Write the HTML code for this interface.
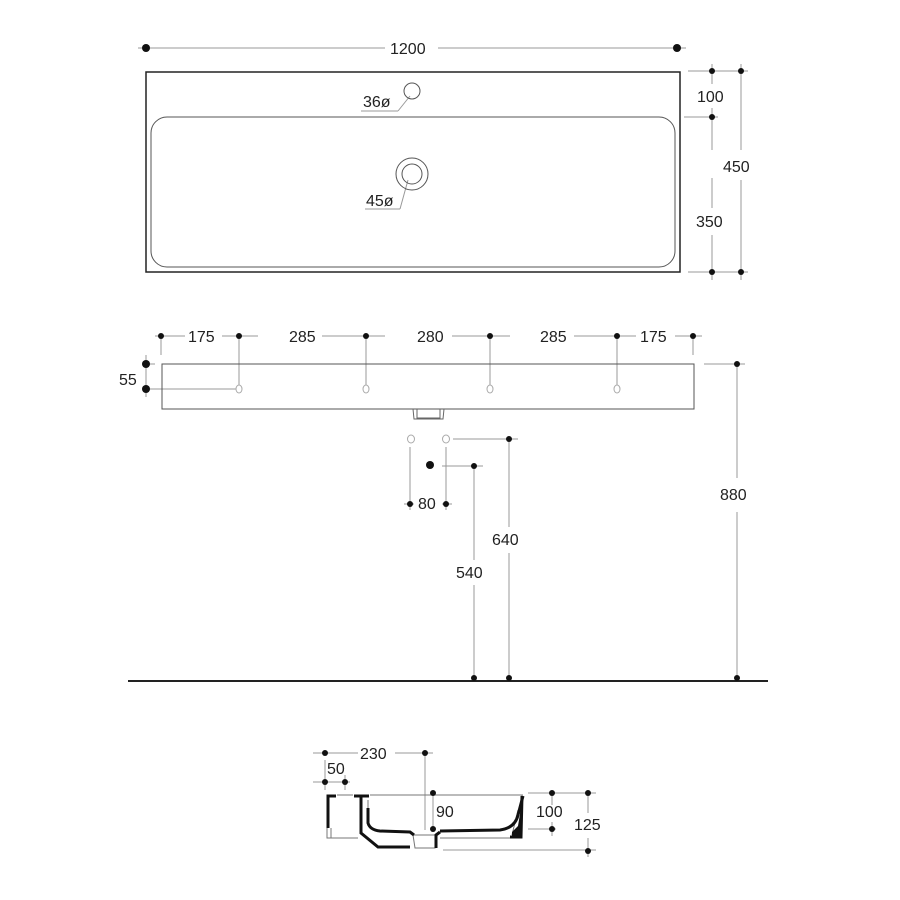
<!DOCTYPE html>
<html><head><style>body{margin:0;background:#fff}svg{display:block}text{font-family:"Liberation Sans",sans-serif;font-size:16px;fill:#222}</style></head><body>
<svg width="900" height="900" viewBox="0 0 900 900" xmlns="http://www.w3.org/2000/svg">
<g stroke="#999" stroke-width="1" fill="none">
<line x1="138" y1="48" x2="385" y2="48"/><line x1="438" y1="48" x2="686" y2="48"/>
<line x1="688" y1="71" x2="748" y2="71"/><line x1="688" y1="272" x2="748" y2="272"/><line x1="684" y1="117" x2="718" y2="117"/>
<line x1="712" y1="64" x2="712" y2="84"/><line x1="712" y1="108" x2="712" y2="150"/><line x1="712" y1="178" x2="712" y2="208"/><line x1="712" y1="235" x2="712" y2="280"/>
<line x1="741" y1="64" x2="741" y2="150"/><line x1="741" y1="180" x2="741" y2="280"/>
<line x1="361" y1="111" x2="398" y2="111"/><line x1="398" y1="111" x2="410" y2="96"/>
<line x1="365" y1="209" x2="400" y2="209"/><line x1="400" y1="209" x2="408" y2="180"/>
<line x1="155" y1="336" x2="185" y2="336"/><line x1="222" y1="336" x2="258" y2="336"/><line x1="322" y1="336" x2="385" y2="336"/><line x1="452" y1="336" x2="510" y2="336"/><line x1="574" y1="336" x2="636" y2="336"/><line x1="675" y1="336" x2="702" y2="336"/>
<line x1="239" y1="336" x2="239" y2="385"/><line x1="366" y1="336" x2="366" y2="385"/><line x1="490" y1="336" x2="490" y2="385"/><line x1="617" y1="336" x2="617" y2="385"/>
<line x1="161" y1="336" x2="161" y2="355"/><line x1="693" y1="336" x2="693" y2="355"/>
<line x1="142" y1="364" x2="155" y2="364"/><line x1="142" y1="389" x2="236" y2="389"/><line x1="146" y1="355" x2="146" y2="397"/>
<line x1="704" y1="364" x2="745" y2="364"/><line x1="737" y1="364" x2="737" y2="478"/><line x1="737" y1="512" x2="737" y2="680"/>
<line x1="453" y1="439" x2="518" y2="439"/><line x1="509" y1="439" x2="509" y2="527"/><line x1="509" y1="553" x2="509" y2="680"/>
<line x1="442" y1="466" x2="483" y2="466"/><line x1="474" y1="466" x2="474" y2="560"/><line x1="474" y1="585" x2="474" y2="680"/>
<line x1="410" y1="447" x2="410" y2="510"/><line x1="446" y1="447" x2="446" y2="510"/>
<line x1="404" y1="504" x2="414" y2="504"/><line x1="442" y1="504" x2="452" y2="504"/>
<line x1="313" y1="753" x2="358" y2="753"/><line x1="395" y1="753" x2="433" y2="753"/><line x1="425" y1="753" x2="425" y2="830"/>
<line x1="313" y1="782" x2="350" y2="782"/><line x1="325" y1="760" x2="325" y2="790"/><line x1="345" y1="775" x2="345" y2="790"/>
<line x1="433" y1="792" x2="433" y2="832"/>
<line x1="528" y1="793" x2="596" y2="793"/><line x1="528" y1="829" x2="556" y2="829"/><line x1="443" y1="850" x2="596" y2="850"/>
<line x1="552" y1="793" x2="552" y2="805"/><line x1="552" y1="822" x2="552" y2="836"/><line x1="588" y1="793" x2="588" y2="813"/><line x1="588" y1="838" x2="588" y2="857"/>
</g>
<rect x="146" y="72" width="534" height="200" fill="none" stroke="#222" stroke-width="1.5"/>
<rect x="151" y="117" width="524" height="150" rx="16" fill="none" stroke="#555" stroke-width="1"/>
<circle cx="412" cy="91" r="8" fill="none" stroke="#555"/>
<circle cx="412" cy="174" r="16" fill="none" stroke="#555"/><circle cx="412" cy="174" r="10" fill="none" stroke="#555"/>
<rect x="162" y="364" width="532" height="45" fill="none" stroke="#555" stroke-width="1"/>
<path d="M413 409 L414 419 L443 419 L444 409 M417 409 L417 418 L440 418 L440 409" fill="none" stroke="#666"/>
<g fill="none" stroke="#aaa"><ellipse cx="239" cy="389" rx="3" ry="4"/><ellipse cx="366" cy="389" rx="3" ry="4"/><ellipse cx="490" cy="389" rx="3" ry="4"/><ellipse cx="617" cy="389" rx="3" ry="4"/>
<ellipse cx="411" cy="439" rx="3.5" ry="4"/><ellipse cx="446" cy="439" rx="3.5" ry="4"/></g>
<circle cx="430" cy="465" r="4" fill="#111"/>
<line x1="128" y1="681" x2="768" y2="681" stroke="#222" stroke-width="2"/>
<!-- cross section -->
<g fill="none" stroke="#777" stroke-width="1">
<path d="M327 828 L327 838 L331 838 L331 828"/>
<path d="M337 795 L353 795"/><path d="M327 838 L358 838"/>
<path d="M370 795 L523 795"/>
<path d="M368 800 L368 808"/>
<path d="M413 835 L415 848 L435 848 L435 835 Z"/>
<path d="M440 838 L510 838"/>
<path d="M512 835 L518 810"/>
</g>
<g fill="none" stroke="#111" stroke-width="3" stroke-linejoin="miter">
<path d="M328 828 L328 796 L336 796"/>
<path d="M354 796 L369 796"/>
<path d="M361 796 L361 833 L378 847 L410 847"/>
<path d="M368 808 L368 823 Q370 830 380 831 L410 832 L414 835"/>
<path d="M436 848 L436 835 L440 832"/>
<path d="M440 831 L500 830 Q515 828 518 815 L523 796"/>
<path d="M522 796 L521 837 L510 837"/>
</g>
<path d="M523 796 L522 837 L512 837 L512 832 L518 826 Z" fill="#111"/>
<g fill="#111">
<circle cx="146" cy="48" r="4"/><circle cx="677" cy="48" r="4"/>
<circle cx="712" cy="71" r="3"/><circle cx="741" cy="71" r="3"/><circle cx="712" cy="117" r="3"/><circle cx="712" cy="272" r="3"/><circle cx="741" cy="272" r="3"/>
<circle cx="161" cy="336" r="3"/><circle cx="239" cy="336" r="3"/><circle cx="366" cy="336" r="3"/><circle cx="490" cy="336" r="3"/><circle cx="617" cy="336" r="3"/><circle cx="693" cy="336" r="3"/>
<circle cx="146" cy="364" r="4"/><circle cx="146" cy="389" r="4"/><circle cx="737" cy="364" r="3"/>
<circle cx="509" cy="439" r="3"/><circle cx="474" cy="466" r="3"/><circle cx="410" cy="504" r="3"/><circle cx="446" cy="504" r="3"/>
<circle cx="474" cy="678" r="3"/><circle cx="509" cy="678" r="3"/><circle cx="737" cy="678" r="3"/>
<circle cx="325" cy="753" r="3"/><circle cx="425" cy="753" r="3"/><circle cx="325" cy="782" r="3"/><circle cx="345" cy="782" r="3"/>
<circle cx="433" cy="793" r="3"/><circle cx="433" cy="829" r="3"/><circle cx="552" cy="793" r="3"/><circle cx="552" cy="829" r="3"/><circle cx="588" cy="793" r="3"/><circle cx="588" cy="851" r="3"/>
</g>
<text x="390" y="54">1200</text>
<text x="697" y="102">100</text><text x="723" y="172">450</text><text x="696" y="227">350</text>
<text x="363" y="107">36ø</text><text x="366" y="206">45ø</text>
<text x="188" y="342">175</text><text x="289" y="342">285</text><text x="417" y="342">280</text><text x="540" y="342">285</text><text x="640" y="342">175</text>
<text x="119" y="385">55</text><text x="720" y="500">880</text>
<text x="418" y="509">80</text><text x="492" y="545">640</text><text x="456" y="578">540</text>
<text x="360" y="759">230</text><text x="327" y="774">50</text><text x="436" y="817">90</text><text x="536" y="817">100</text><text x="574" y="830">125</text>
</svg>
</body></html>
